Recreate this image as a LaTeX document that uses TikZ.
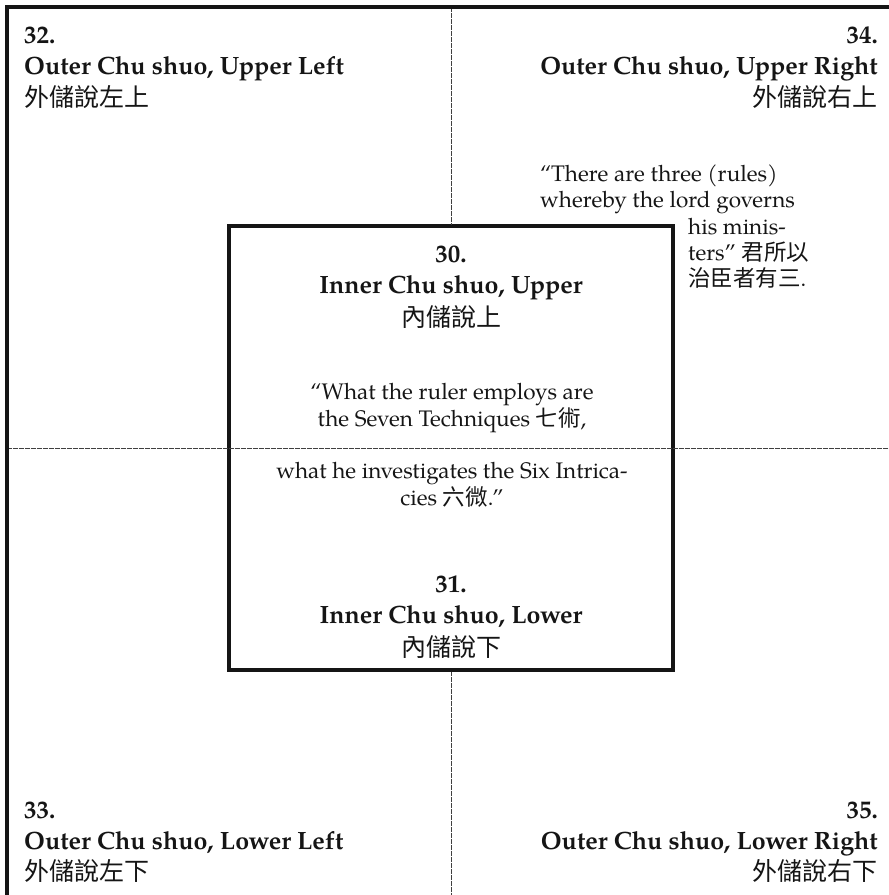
\documentclass[tikz,border=0pt]{standalone}
\usepackage{fontspec}
\setmainfont{TeX Gyre Pagella}
\newfontfamily\cjk{Noto Sans CJK TC}
\definecolor{ink}{HTML}{151515}
\tikzset{
  hd/.style={font=\fontsize{25}{30}\selectfont\bfseries, inner sep=0pt, text=ink},
  cj/.style={font=\fontsize{25}{30}\selectfont\cjk, inner sep=0pt, text=ink},
  qt/.style={font=\fontsize{22.5}{27}\selectfont, inner sep=0pt, text=ink},
  framestyle/.style={draw=ink, line width=4pt, line join=miter},
  boxstyle/.style={draw=ink, line width=3.5pt, minimum width=444pt, minimum height=444pt, inner sep=0pt},
  dotline/.style={draw=black!75, line width=0.9pt, dash pattern=on 0.6pt off 0.6pt}
}
\begin{document}
\begin{tikzpicture}[x=1pt,y=-1pt]
\useasboundingbox (0,0) rectangle (889,895);
% frame
\coordinate (fbl) at (7,895);
\coordinate (ftl) at (7,7);
\coordinate (ftr) at (889,7);
\draw[framestyle] (fbl) -- (ftl) -- (ftr);
% inner box
\node[boxstyle] (inner) at (451,448) {};
% dotted axes
\coordinate (vtop) at (451.5,9);
\coordinate (vbot) at (451.5,895);
\coordinate (hl) at (9,448.5);
\coordinate (hr) at (889,448.5);
\draw[dotline] (vtop) -- (vtop |- inner.north);
\draw[dotline] (vbot |- inner.south) -- (vbot);
\draw[dotline] (hl) -- (hr);

% top left
\node[hd, anchor=base west] (n32) at (24,43) {32.};
\node[hd, anchor=base west] (t32) at (24,74) {Outer Chu shuo, Upper Left};
\node[cj, anchor=base west] (c32) at (24,106) {外儲說左上};
% top right
\node[hd, anchor=base east] (n34) at (878,43) {34.};
\node[hd, anchor=base east] (t34) at (878,74) {Outer Chu shuo, Upper Right};
\node[cj, anchor=base east] (c34) at (878,106) {外儲說右上};
% bottom left
\node[hd, anchor=base west] (n33) at (24,818) {33.};
\node[hd, anchor=base west] (t33) at (24,849) {Outer Chu shuo, Lower Left};
\node[cj, anchor=base west] (c33) at (24,880) {外儲說左下};
% bottom right
\node[hd, anchor=base east] (n35) at (878,818) {35.};
\node[hd, anchor=base east] (t35) at (878,849) {Outer Chu shuo, Lower Right};
\node[cj, anchor=base east] (c35) at (878,880) {外儲說右下};

% center upper
\node[hd, anchor=base] (n30) at (451,262) {30.};
\node[hd, anchor=base] (t30) at (451,293) {Inner Chu shuo, Upper};
\node[cj, anchor=base] (c30) at (451,326) {內儲說上};
% center quote
\node[qt, anchor=base] (q1) at (452,399) {“What the ruler employs are};
\node[qt, anchor=base] (q2) at (452,426) {the Seven Techniques {\cjk 七術},};
\node[qt, anchor=base] (q3) at (452,478) {what he investigates the Six Intrica-};
\node[qt, anchor=base] (q4) at (452,505) {cies {\cjk 六微}.”};
% center lower
\node[hd, anchor=base] (n31) at (451,592) {31.};
\node[hd, anchor=base] (t31) at (451,623) {Inner Chu shuo, Lower};
\node[cj, anchor=base] (c31) at (451,656) {內儲說下};

% upper right quote
\node[qt, anchor=base west] (r1) at (540,181) {“There are three (rules)};
\node[qt, anchor=base west] (r2) at (540,207) {whereby the lord governs};
\node[qt, anchor=base west] (r3) at (688,234) {his minis-};
\node[qt, anchor=base west] (r4) at (688,260) {ters” {\cjk 君所以}};
\node[qt, anchor=base west] (r5) at (688,286) {{\cjk 治臣者有三}.};
\end{tikzpicture}
\end{document}
